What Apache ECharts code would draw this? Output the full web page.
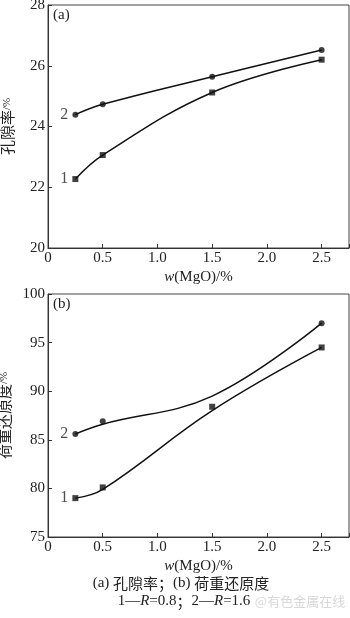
<!DOCTYPE html>
<html><head><meta charset="utf-8">
<script src="https://cdn.jsdelivr.net/npm/echarts@6/dist/echarts.min.js"></script>
<style>html,body{margin:0;padding:0;background:#fff}#c{width:350px;height:618px}</style>
</head><body><div id="c"></div>
<script>
// Panel (a): porosity /%
const xTicks = [0, 0.5, 1.0, 1.5, 2.0, 2.5];
const aMarkers1 = [[0.25, 22.27], [0.5, 23.06], [1.5, 25.12], [2.5, 26.2]];
const aMarkers2 = [[0.25, 24.39], [0.5, 24.73], [1.5, 25.64], [2.5, 26.52]];
const aCurve1 = [[0.25, 22.27], [0.5, 23.06], [1.5, 25.12], [2.5, 26.2]];
const aCurve2 = [[0.25, 24.39], [0.5, 24.73], [1.5, 25.64], [2.5, 26.52]];
// Panel (b): reduction under load /%
const bMarkers1 = [[0.25, 79.0], [0.5, 80.1], [1.5, 88.4], [2.5, 94.5]];
const bMarkers2 = [[0.25, 85.6], [0.5, 86.9], [2.5, 97.0]];
const bCurve1 = [[0.25, 79.0], [0.5, 79.9], [1.5, 88.0], [2.5, 94.5]];
const bCurve2 = [[0.25, 85.6], [0.5, 86.6], [1.5, 89.5], [2.5, 97.0]];
const seriesNames = ['1', '2'];

const serif = 'Liberation Serif';
const cjk = 'Noto Sans CJK SC';

const chart = echarts.init(document.getElementById('c'));

function xAxis(gi) {
  return {
    gridIndex: gi, type: 'value', min: 0, max: 2.75, interval: 0.5,
    name: '{i|w}{n|(MgO)/%}', nameLocation: 'middle', nameGap: 22,
    nameTextStyle: { rich: { i: { fontFamily: serif, fontStyle: 'italic', fontSize: 15, color: '#222' }, n: { fontFamily: serif, fontSize: 15, color: '#222' } } },
    axisLine: { lineStyle: { color: '#333', width: 1 } },
    axisTick: { inside: true, length: 4, lineStyle: { color: '#333' } },
    splitLine: { show: false },
    axisLabel: {
      fontFamily: serif, fontSize: 15, color: '#222', margin: 3,
      formatter: v => { const i = xTicks.indexOf(Math.round(v * 100) / 100); return i < 0 ? '' : (v === 0 ? '0' : v.toFixed(1)); }
    }
  };
}
function yAxis(gi, min, max, itv, label) {
  return {
    gridIndex: gi, type: 'value', min: min, max: max, interval: itv,
    name: '{c|' + label + '}{s|/%}', nameLocation: 'middle', nameGap: 33,
    nameTextStyle: { rich: { c: { fontFamily: cjk, fontSize: 15, color: '#222' }, s: { fontFamily: serif, fontSize: 11, color: '#222' } } },
    axisLine: { lineStyle: { color: '#333', width: 1 } },
    axisTick: { inside: true, length: 4, lineStyle: { color: '#333' } },
    splitLine: { show: false },
    axisLabel: { fontFamily: serif, fontSize: 15, color: '#222', margin: 3 }
  };
}
function curve(gi, data) {
  return {
    type: 'line', xAxisIndex: gi, yAxisIndex: gi, data: data, smooth: 0.4,
    symbol: 'none', lineStyle: { color: '#111', width: 1.5 }, silent: true, z: 2
  };
}
function markers(gi, data, sym, name) {
  return {
    type: 'scatter', xAxisIndex: gi, yAxisIndex: gi, data: data, symbol: sym,
    symbolSize: 6, itemStyle: { color: '#111' }, z: 3,
    label: { show: true, position: 'left', distance: 4, fontFamily: serif, fontSize: 16, color: '#222',
      formatter: p => p.dataIndex === 0 ? name : '' }
  };
}

chart.setOption({
  animation: false,
  grid: [
    { left: 48, top: 5, width: 301, height: 243, show: true, borderColor: '#444', borderWidth: 1, outerBoundsMode: 'none', containLabel: false },
    { left: 48, top: 294, width: 301, height: 243, show: true, borderColor: '#444', borderWidth: 1, outerBoundsMode: 'none', containLabel: false }
  ],
  xAxis: [xAxis(0), xAxis(1)],
  yAxis: [yAxis(0, 20, 28, 2, '孔隙率'), yAxis(1, 75, 100, 5, '荷重还原度')],
  series: [
    curve(0, aCurve1), curve(0, aCurve2),
    markers(0, aMarkers1, 'rect', seriesNames[0]), markers(0, aMarkers2, 'circle', seriesNames[1]),
    curve(1, bCurve1), curve(1, bCurve2),
    markers(1, bMarkers1, 'rect', seriesNames[0]), markers(1, bMarkers2, 'circle', seriesNames[1])
  ],
  graphic: [
    { type: 'text', left: 53, top: 8, style: { text: '(a)', font: '15px "Liberation Serif"', fill: '#222' } },
    { type: 'text', left: 53, top: 297, style: { text: '(b)', font: '15px "Liberation Serif"', fill: '#222' } },
    { type: 'text', x: 181, y: 583, style: { text: '{s|(a) }{c|孔隙率；}{s|(b) }{c|荷重还原度}', align: 'center', verticalAlign: 'middle',
      rich: { s: { fontFamily: serif, fontSize: 15, fill: '#222' }, c: { fontFamily: cjk, fontSize: 15, fill: '#222' } } } },
    { type: 'text', x: 184, y: 601, style: { text: '{s|1—}{i|R}{s|=0.8}{c|；}{s|2—}{i|R}{s|=1.6}', align: 'center', verticalAlign: 'middle',
      rich: { s: { fontFamily: serif, fontSize: 15, fill: '#222' }, i: { fontFamily: serif, fontStyle: 'italic', fontSize: 15, fill: '#222' }, c: { fontFamily: cjk, fontSize: 15, fill: '#222' } } } },
    { type: 'text', x: 300, y: 601, style: { text: '@有色金属在线', align: 'center', verticalAlign: 'middle', font: '13px "Noto Sans CJK SC"', fill: '#d8d8d8' } }
  ]
});
</script></body></html>
